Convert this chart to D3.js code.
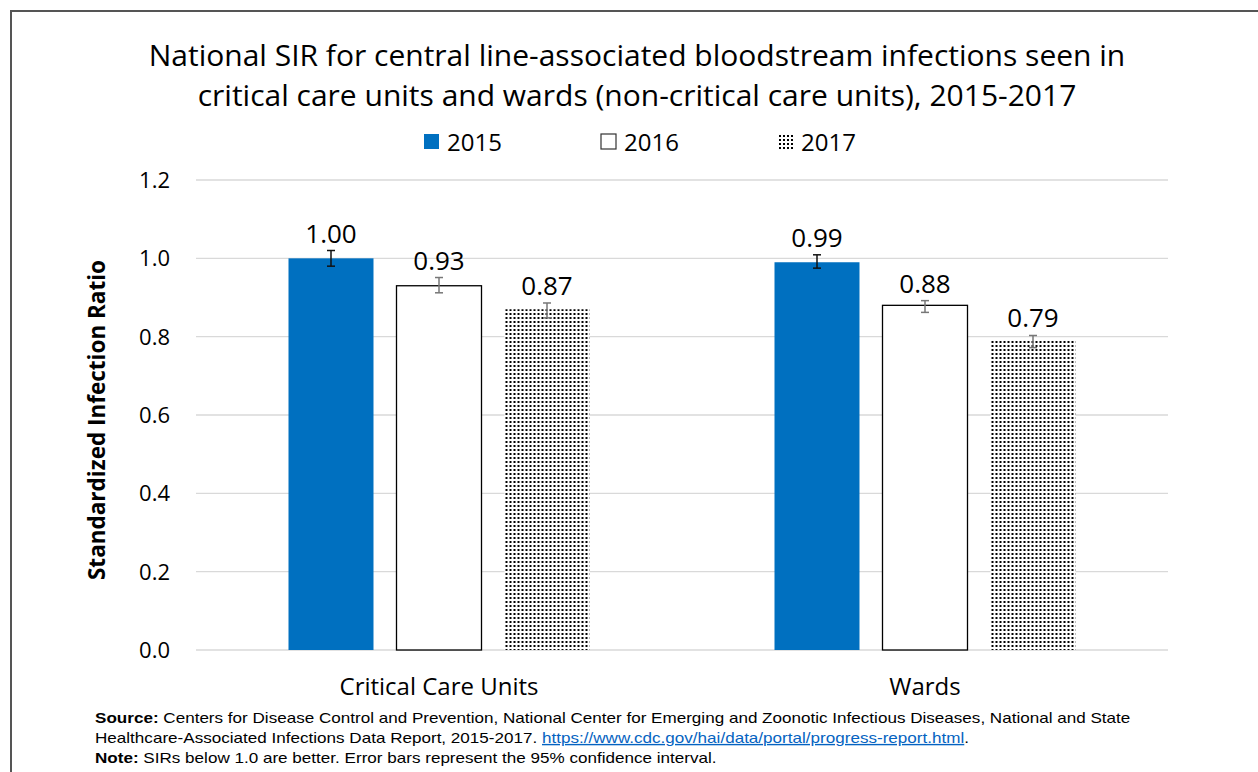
<!DOCTYPE html>
<html>
<head>
<meta charset="utf-8">
<script src="https://cdn.jsdelivr.net/npm/d3@7"></script>
<style>
  body { margin: 0; background: #fff; }
  svg { display: block; }
</style>
</head>
<body>
<script>
// data
const categories = ["Critical Care Units", "Wards"];
const years = ["2015", "2016", "2017"];
const sir = [[1.00, 0.93, 0.87], [0.99, 0.88, 0.79]];
const ciLow = [[0.98, 0.912, 0.848], [0.975, 0.862, 0.772]];
const ciHigh = [[1.02, 0.951, 0.886], [1.009, 0.892, 0.803]];
const yTicks = [0, 0.2, 0.4, 0.6, 0.8, 1.0, 1.2];

const width = 1258, height = 772;
const font = "'Open Sans', sans-serif";
const margin = {left: 196, right: 90, top: 180, bottom: 122};

var svg = d3.select("body").append("svg")
    .attr("width", width).attr("height", height);

// dotted fill for 2017
var defs = svg.append("defs");
var pat = defs.append("pattern").attr("id", "dots")
    .attr("patternUnits", "userSpaceOnUse")
    .attr("width", 4).attr("height", 4);
pat.append("rect").attr("width", 4).attr("height", 4).attr("fill", "#fff");
pat.append("rect").attr("x", 1).attr("y", 1).attr("width", 2).attr("height", 2).attr("fill", "#000");

// frame (left and top only)
svg.append("path").attr("d", "M11,772V11H1258")
    .attr("fill", "none").attr("stroke", "#555").attr("stroke-width", 2);

var x0 = d3.scaleBand().domain(categories)
    .range([margin.left, width - margin.right]);
var x1 = d3.scaleBand().domain(years)
    .range([0, 301]).paddingInner(0.213);
var y = d3.scaleLinear().domain([0, 1.2])
    .range([height - margin.bottom, margin.top]);

// gridlines
svg.append("g").selectAll("line").data(yTicks).enter().append("line")
    .attr("x1", margin.left).attr("x2", width - margin.right)
    .attr("y1", d => y(d)).attr("y2", d => y(d))
    .attr("stroke", "#d9d9d9").attr("stroke-width", 1.3);

// y tick labels
svg.append("g").selectAll("text").data(yTicks).enter().append("text")
    .attr("x", 170).attr("y", d => y(d) + 8)
    .attr("text-anchor", "end")
    .attr("font-family", font).attr("font-size", 22).attr("fill", "#000")
    .text(d => d.toFixed(1));

var fills = ["#0070c0", "#fff", "url(#dots)"];
var errColor = ["#111", "#777", "#777"];

var groups = svg.selectAll(".grp").data(categories).enter().append("g")
    .attr("class", "grp")
    .attr("transform", d => "translate(" + (x0(d) + x0.bandwidth() / 2 - 150.5) + ",0)");

groups.each(function (c, ci) {
    var g = d3.select(this);
    years.forEach((yr, i) => {
        var v = sir[ci][i];
        var bx = x1(yr), bw = x1.bandwidth();
        g.append("rect")
            .attr("x", bx).attr("y", y(v))
            .attr("width", bw).attr("height", y(0) - y(v))
            .attr("fill", fills[i])
            .attr("stroke", i == 1 ? "#000" : "none")
            .attr("stroke-width", 1.3);
        var cx = bx + bw / 2;
        var eb = g.append("g").attr("stroke", errColor[i]).attr("stroke-width", 1.5);
        eb.append("line").attr("x1", cx).attr("x2", cx)
            .attr("y1", y(ciHigh[ci][i])).attr("y2", y(ciLow[ci][i]));
        [ciHigh[ci][i], ciLow[ci][i]].forEach(e => {
            eb.append("line").attr("x1", cx - 4).attr("x2", cx + 4)
                .attr("y1", y(e)).attr("y2", y(e));
        });
        g.append("text")
            .attr("x", cx).attr("y", y(ciHigh[ci][i]) - 8)
            .attr("text-anchor", "middle")
            .attr("font-family", font).attr("font-size", 26).attr("fill", "#000")
            .text(v.toFixed(2));
    });
});

// category labels
svg.append("g").selectAll("text").data(categories).enter().append("text")
    .attr("x", d => x0(d) + x0.bandwidth() / 2).attr("y", 695)
    .attr("text-anchor", "middle")
    .attr("font-family", font).attr("font-size", 24).attr("fill", "#000")
    .text(d => d);

// y axis title
svg.append("text")
    .attr("transform", "translate(105,420) rotate(-90)")
    .attr("text-anchor", "middle")
    .attr("font-family", font).attr("font-size", 22.5).attr("font-weight", "bold")
    .text("Standardized Infection Ratio");

// title
var title = svg.append("text").attr("text-anchor", "middle")
    .attr("font-family", font).attr("font-size", 30).attr("fill", "#000");
title.append("tspan").attr("x", 637).attr("y", 66)
    .text("National SIR for central line-associated bloodstream infections seen in");
title.append("tspan").attr("x", 637).attr("y", 106)
    .text("critical care units and wards (non-critical care units), 2015-2017");

// legend
var legX = [424, 601, 778];
var leg = svg.append("g").selectAll("g").data(years).enter().append("g")
    .attr("transform", (d, i) => "translate(" + legX[i] + ",134)");
leg.append("rect").attr("width", 15).attr("height", 15)
    .attr("fill", (d, i) => fills[i])
    .attr("stroke", (d, i) => i == 1 ? "#333" : "none").attr("stroke-width", 1.2);
leg.append("text").attr("x", 23).attr("y", 17)
    .attr("font-family", font).attr("font-size", 24).attr("fill", "#000")
    .text(d => d);

// footnotes (stretched a little to match the picture's width)
var foot = svg.append("g").attr("transform", "translate(95,0) scale(1.22,1)")
    .attr("font-family", "'Liberation Sans', Arial, sans-serif")
    .attr("font-size", 14).attr("fill", "#000");
var f1 = foot.append("text").attr("x", 0).attr("y", 723);
f1.append("tspan").attr("font-weight", "bold").text("Source:");
f1.append("tspan").text(" Centers for Disease Control and Prevention, National Center for Emerging and Zoonotic Infectious Diseases, National and State");
var f2 = foot.append("text").attr("x", 0).attr("y", 743);
f2.append("tspan").text("Healthcare-Associated Infections Data Report, 2015-2017. ");
f2.append("tspan").attr("fill", "#0563c1").attr("text-decoration", "underline")
    .text("https://www.cdc.gov/hai/data/portal/progress-report.html");
f2.append("tspan").text(".");
var f3 = foot.append("text").attr("x", 0).attr("y", 763);
f3.append("tspan").attr("font-weight", "bold").text("Note:");
f3.append("tspan").text(" SIRs below 1.0 are better. Error bars represent the 95% confidence interval.");
</script>
</body>
</html>
